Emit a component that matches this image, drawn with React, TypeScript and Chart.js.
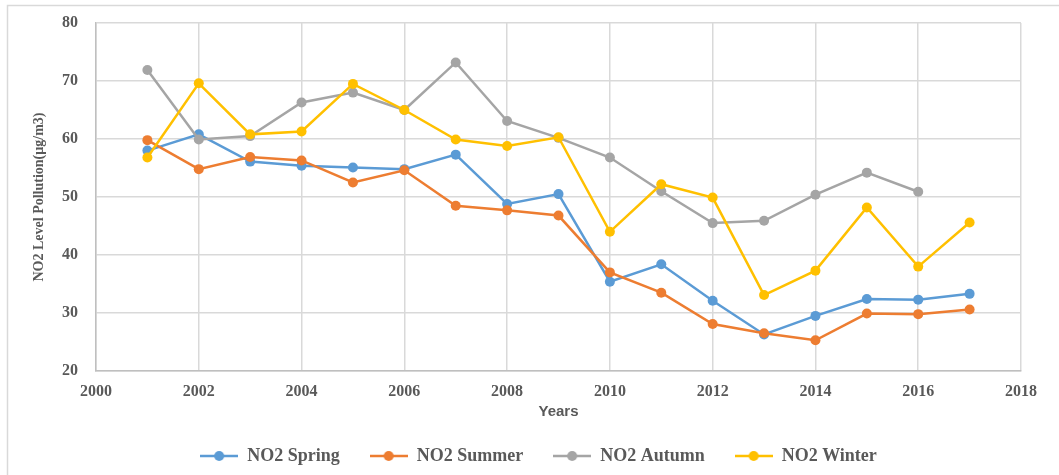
import React, { useEffect, useRef } from "react";
import { Chart, registerables } from "chart.js";

Chart.register(...registerables);

const years = [2001, 2002, 2003, 2004, 2005, 2006, 2007, 2008, 2009, 2010, 2011, 2012, 2013, 2014, 2015, 2016, 2017];
const spring = [58.0, 60.8, 56.1, 55.4, 55.1, 54.8, 57.3, 48.8, 50.5, 35.4, 38.4, 32.1, 26.3, 29.5, 32.4, 32.3, 33.3];
const summer = [59.8, 54.8, 56.9, 56.3, 52.5, 54.6, 48.5, 47.7, 46.8, 37.0, 33.5, 28.1, 26.5, 25.3, 29.9, 29.8, 30.6];
const autumn = [71.9, 59.9, 60.5, 66.3, 68.0, 65.0, 73.2, 63.1, 60.2, 56.8, 51.0, 45.5, 45.9, 50.4, 54.2, 50.9, null];
const winter = [56.8, 69.6, 60.8, 61.3, 69.5, 65.0, 59.9, 58.8, 60.3, 44.0, 52.2, 49.9, 33.1, 37.3, 48.2, 38.0, 45.6];

const seriesNames = ["NO2 Spring", "NO2 Summer", "NO2 Autumn", "NO2 Winter"];
const seriesColors = ["#5B9BD5", "#ED7D31", "#A5A5A5", "#FFC000"];
const seriesValues = [spring, summer, autumn, winter];

const xTitle = "Years";
const yTitle = "NO2 Level Pollution(µg/m3)";

const SERIF = "'Liberation Serif', 'Times New Roman', serif";
const SANS = "'Liberation Sans', Arial, sans-serif";
const TEXT = "#595959";
const GRID = "#d9d9d9";

function legendImage(color: string) {
  const c = document.createElement("canvas");
  c.width = 38;
  c.height = 12;
  const ctx = c.getContext("2d")!;
  ctx.strokeStyle = color;
  ctx.lineWidth = 2.5;
  ctx.beginPath();
  ctx.moveTo(0, 6);
  ctx.lineTo(38, 6);
  ctx.stroke();
  ctx.fillStyle = color;
  ctx.beginPath();
  ctx.arc(19, 6, 5, 0, Math.PI * 2);
  ctx.fill();
  return c;
}

export default function App() {
  const ref = useRef<HTMLCanvasElement | null>(null);

  useEffect(() => {
    if (!ref.current) return;
    const images = seriesColors.map(legendImage);

    const framePlugin = {
      id: "frame",
      beforeDraw(chart: any) {
        const ctx = chart.ctx;
        ctx.save();
        ctx.fillStyle = "#ffffff";
        ctx.fillRect(0, 0, chart.width, chart.height);
        ctx.strokeStyle = GRID;
        ctx.lineWidth = 1.5;
        ctx.strokeRect(7.5, 5.5, 1200, 600);
        ctx.restore();
      },
      afterLayout(chart: any) {
        const lg = chart.legend;
        if (lg) {
          lg.left = 56;
        }
      },
    };

    const chart = new Chart(ref.current, {
      type: "line",
      data: {
        datasets: seriesNames.map((name, i) => ({
          label: name,
          data: years.map((yr, j) => ({ x: yr, y: seriesValues[i][j] })),
          borderColor: seriesColors[i],
          backgroundColor: seriesColors[i],
          pointBackgroundColor: seriesColors[i],
          pointBorderColor: seriesColors[i],
          borderWidth: 2.5,
          pointRadius: 5,
          pointBorderWidth: 0,
          tension: 0,
          spanGaps: false,
          order: seriesNames.length - i,
        })),
      },
      options: {
        animation: false,
        responsive: false,
        maintainAspectRatio: false,
        layout: { padding: { left: 0, right: 38, top: 23, bottom: 0 } },
        plugins: {
          tooltip: { enabled: false },
          legend: {
            position: "bottom",
            labels: {
              usePointStyle: true,
              pointStyleWidth: 38,
              boxHeight: 12,
              padding: 30,
              color: TEXT,
              font: { family: SERIF, size: 18, weight: "bold" },
              generateLabels: (ch: any) =>
                ch.data.datasets.map((ds: any, i: number) => ({
                  text: ds.label,
                  datasetIndex: i,
                  hidden: false,
                  fillStyle: seriesColors[i],
                  strokeStyle: seriesColors[i],
                  lineWidth: 0,
                  pointStyle: images[i],
                  fontColor: TEXT,
                })),
            },
          },
        },
        scales: {
          x: {
            type: "linear",
            min: 2000,
            max: 2018,
            afterFit: (s: any) => {
              s.height = 46;
            },
            ticks: {
              stepSize: 2,
              padding: 11,
              color: TEXT,
              font: { family: SERIF, size: 16, weight: "bold" },
              callback: (v: any) => String(v),
              maxRotation: 0,
            },
            grid: { color: GRID, lineWidth: 1.5, drawTicks: false },
            border: { color: "#bfbfbf", width: 1.5 },
            title: {
              display: true,
              text: xTitle,
              color: TEXT,
              font: { family: SANS, size: 15, weight: "bold" },
              padding: { top: 0, bottom: -4 },
            },
          },
          y: {
            min: 20,
            max: 80,
            afterFit: (s: any) => {
              s.width = 96;
              s.paddingTop = 0;
              s.paddingBottom = 0;
            },
            ticks: {
              stepSize: 10,
              padding: 18,
              color: TEXT,
              font: { family: SERIF, size: 16, weight: "bold" },
              callback: (v: any) => String(v),
            },
            grid: { color: GRID, lineWidth: 1.5, drawTicks: false },
            border: { color: "#bfbfbf", width: 1.5 },
            title: {
              display: true,
              text: yTitle,
              color: TEXT,
              font: { family: SERIF, size: 14, weight: "bold" },
              padding: { top: 31, bottom: 0 },
            },
          },
        },
      },
      plugins: [framePlugin],
    } as any);

    return () => chart.destroy();
  }, []);

  return (
    <div style={{ position: "fixed", left: 0, top: 0, width: 1059, height: 475, background: "#fff" }}>
      <canvas ref={ref} width={1059} height={475} style={{ display: "block", width: 1059, height: 475 }} />
    </div>
  );
}
